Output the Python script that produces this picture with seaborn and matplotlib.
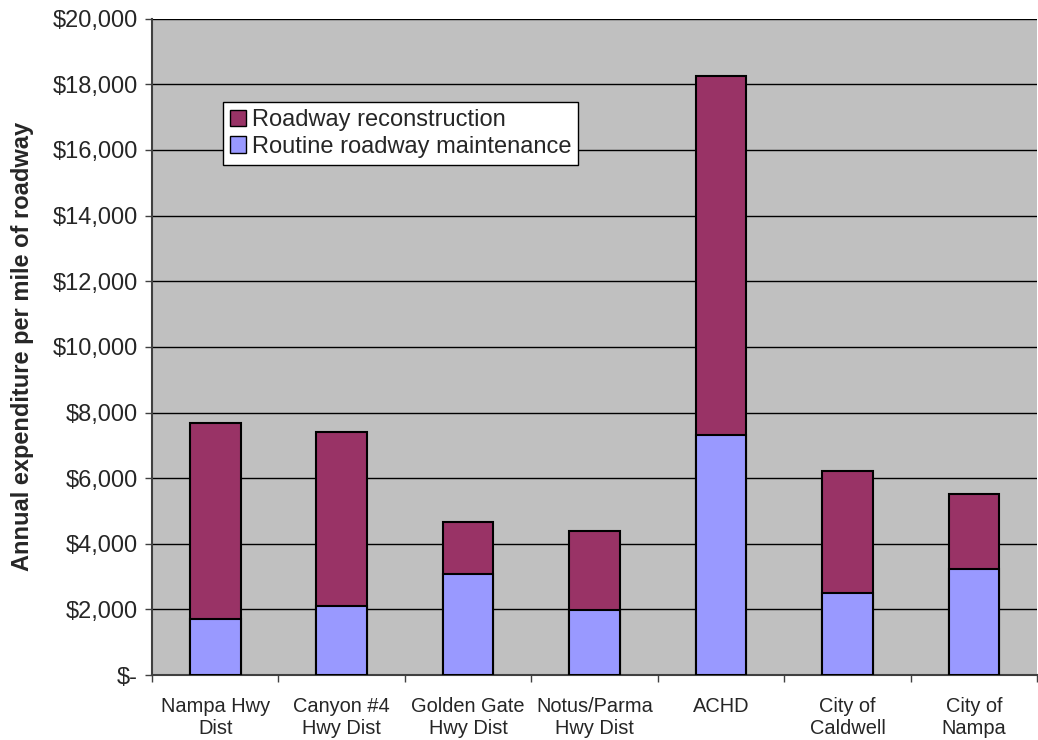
import pandas as pd
import numpy as np
import matplotlib
matplotlib.use('Agg')
import matplotlib.pyplot as plt
import matplotlib.ticker as mticker
from matplotlib.patches import Patch
import seaborn as sns

# Data
districts = ['Nampa Hwy\nDist', 'Canyon #4\nHwy Dist', 'Golden Gate\nHwy Dist',
             'Notus/Parma\nHwy Dist', 'ACHD', 'City of\nCaldwell', 'City of\nNampa']
maintenance = [1710, 2090, 3080, 1970, 7320, 2510, 3220]
reconstruction = [5970, 5330, 1580, 2430, 10940, 3710, 2290]

data = pd.DataFrame({'district': districts,
                     'maintenance': maintenance,
                     'reconstruction': reconstruction})
data['total'] = data['maintenance'] + data['reconstruction']

sns.set_style('white')
plt.rcParams['font.family'] = ['Liberation Sans', 'DejaVu Sans']

fig = plt.figure(figsize=(10.38, 7.40), dpi=100)
ax = fig.add_axes([0.1464, 0.0878, 0.853, 0.8869])
ax.set_facecolor('#C0C0C0')

# stacked bars: total first (reconstruction colour), then maintenance over it
sns.barplot(data=data, x='district', y='total', color='#993366', width=0.4,
            edgecolor='black', linewidth=1.5, saturation=1, ax=ax, zorder=3)
sns.barplot(data=data, x='district', y='maintenance', color='#9999FF', width=0.4,
            edgecolor='black', linewidth=1.5, saturation=1, ax=ax, zorder=3)

ax.set_ylim(0, 20000)
ax.set_xlim(-0.5, 6.5)
ax.set_yticks(np.arange(0, 20001, 2000))
ax.yaxis.set_major_formatter(mticker.FuncFormatter(
    lambda v, p: '$-' if v == 0 else '${:,.0f}'.format(v)))
ax.grid(axis='y', color='black', linewidth=1, zorder=0)
ax.set_axisbelow(True)

for s in ['top', 'right']:
    ax.spines[s].set_visible(False)
for s in ['left', 'bottom']:
    ax.spines[s].set_color('#404040')
    ax.spines[s].set_linewidth(1.5)

ax.tick_params(axis='y', direction='out', length=5, width=1, color='#404040',
               labelsize=17, left=True, pad=5)
ax.tick_params(axis='x', which='major', length=0, labelsize=14.4, pad=16)
ax.set_xticks(np.arange(-0.5, 6.6, 1), minor=True)
ax.tick_params(axis='x', which='minor', direction='out', length=5, width=1,
               color='#404040', bottom=True)

ax.set_xlabel('')
ax.set_ylabel('')
fig.text(23 / 1038, 1 - 346 / 740, 'Annual expenditure per mile of roadway',
         rotation=90, ha='center', va='center', fontsize=17, fontweight='bold')

handles = [Patch(facecolor='#993366', edgecolor='black', label='Roadway reconstruction'),
           Patch(facecolor='#9999FF', edgecolor='black', label='Routine roadway maintenance')]
leg = ax.legend(handles=handles, loc='upper left', bbox_to_anchor=(0.08, 0.873),
                fontsize=17, frameon=True, fancybox=False, framealpha=1,
                edgecolor='black', handlelength=0.68, handleheight=0.68,
                handletextpad=0.25, borderpad=0.3, labelspacing=0.2,
                borderaxespad=0)
leg.get_frame().set_linewidth(1)

fig.savefig('out.png', dpi=100)
